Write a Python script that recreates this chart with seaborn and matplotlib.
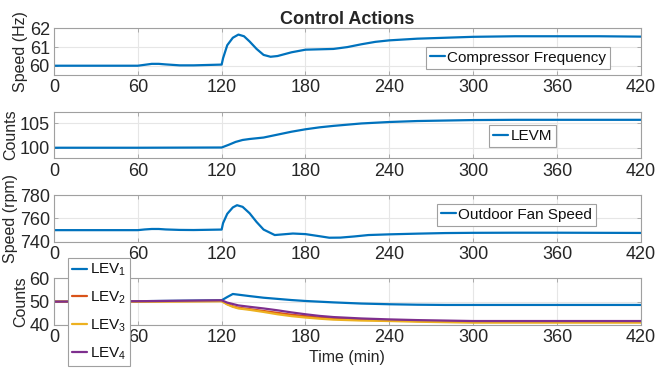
import numpy as np
import pandas as pd
import matplotlib
matplotlib.use("Agg")
import matplotlib.pyplot as plt
import seaborn as sns

# time points (min)
t_comp = [0, 60, 65, 70, 75, 80, 90, 100, 110, 120, 121, 124, 128, 132, 136, 140, 145, 150, 155,
          160, 170, 180, 190, 200, 210, 220, 230, 240, 260, 280, 300, 330, 360, 390, 420]
comp_freq = [60.0, 60.0, 60.05, 60.1, 60.1, 60.07, 60.02, 60.02, 60.04, 60.06, 60.4, 61.1, 61.5, 61.67,
             61.58, 61.3, 60.9, 60.58, 60.48, 60.52, 60.72, 60.86, 60.88, 60.9, 61.0, 61.15, 61.28,
             61.36, 61.45, 61.5, 61.55, 61.58, 61.58, 61.58, 61.56]

t_levm = [0, 60, 120, 125, 130, 135, 140, 150, 160, 170, 180, 190, 200, 220, 240, 260, 280, 300,
          330, 360, 390, 420]
levm = [100.0, 100.0, 100.05, 100.6, 101.2, 101.6, 101.8, 102.1, 102.7, 103.3, 103.8, 104.2, 104.5,
        105.0, 105.3, 105.5, 105.6, 105.7, 105.75, 105.75, 105.75, 105.75]

t_fan = [0, 60, 65, 70, 75, 80, 90, 100, 110, 120, 121, 124, 128, 131, 135, 140, 145, 150, 158,
         165, 171, 180, 190, 197, 205, 215, 225, 240, 260, 280, 300, 330, 360, 390, 420]
fan_speed = [750.0, 750.0, 750.6, 751.0, 751.0, 750.6, 750.2, 750.1, 750.3, 750.5, 756.0, 764.0,
             769.5, 771.4, 770.0, 764.5, 757.0, 750.5, 745.8, 746.5, 747.1, 746.6, 744.8, 743.5,
             743.6, 744.6, 745.8, 746.4, 747.0, 747.5, 747.7, 747.8, 747.8, 747.7, 747.6]

t_lev = [0, 60, 90, 120, 124, 128, 132, 140, 150, 160, 170, 180, 190, 200, 220, 240, 260, 280,
         300, 330, 360, 390, 420]
lev1 = [50.0, 50.2, 50.4, 50.6, 52.0, 53.3, 53.0, 52.4, 51.7, 51.2, 50.7, 50.3, 50.0, 49.7, 49.2,
        48.9, 48.7, 48.6, 48.6, 48.6, 48.6, 48.6, 48.6]
lev2 = [50.0, 50.1, 50.2, 50.3, 49.0, 48.0, 47.4, 46.8, 46.0, 45.2, 44.4, 43.8, 43.2, 42.8, 42.3,
        42.0, 41.7, 41.5, 41.4, 41.4, 41.4, 41.4, 41.4]
lev3 = [50.0, 50.0, 50.1, 50.2, 48.8, 47.8, 47.1, 46.5, 45.6, 44.6, 43.8, 43.2, 42.7, 42.3, 41.9,
        41.7, 41.4, 41.2, 41.0, 41.0, 41.0, 41.0, 41.0]
lev4 = [50.0, 50.2, 50.4, 50.6, 49.6, 49.0, 48.4, 47.8, 47.1, 46.3, 45.4, 44.6, 43.9, 43.4, 42.8,
        42.4, 42.1, 41.9, 41.7, 41.7, 41.7, 41.7, 41.7]

x_ticks = [0, 60, 120, 180, 240, 300, 360, 420]

blue, red, yellow, purple = "#0072BD", "#D95319", "#EDB120", "#7E2F8E"

sns.set_theme(style="white")
plt.rcParams["font.family"] = ["Liberation Sans", "DejaVu Sans"]
plt.rcParams["mathtext.default"] = "regular"

fig = plt.figure(figsize=(6.55, 3.79), dpi=100)
left, width, height = 0.0824, 0.896, 0.123
bottoms = [0.802, 0.582, 0.362, 0.1425]
axes = [fig.add_axes([left, b, width, height]) for b in bottoms]


def style_axis(ax, ylim, yticks, ylabel):
    ax.set_xlim(0, 420)
    ax.set_ylim(*ylim)
    ax.set_xticks(x_ticks)
    ax.set_yticks(yticks)
    ax.grid(True, color="#e6e6e6", linewidth=0.8)
    ax.set_axisbelow(True)
    for s in ax.spines.values():
        s.set_color("#a0a0a0")
        s.set_linewidth(0.8)
    ax.tick_params(direction="in", length=3, width=0.6, color="#a0a0a0",
                   labelsize=13, labelcolor="#262626", top=True, right=True,
                   bottom=True, left=True, pad=3)
    ax.set_ylabel(ylabel, fontsize=11.5, color="#262626", labelpad=1)
    ax.set_xlabel("")


def add_legend(ax, anchor, **kw):
    leg = ax.legend(loc="upper left", bbox_to_anchor=anchor, bbox_transform=fig.transFigure,
                    borderaxespad=0, fontsize=11, handlelength=1.0, handletextpad=0.15,
                    borderpad=0.25, fancybox=False, framealpha=1, **kw)
    leg.get_frame().set_edgecolor("#a0a0a0")
    leg.get_frame().set_linewidth(0.8)
    for txt in leg.get_texts():
        txt.set_color("#111111")
    return leg


lw = 1.6
ax = axes[0]
sns.lineplot(x=t_comp, y=comp_freq, ax=ax, color=blue, linewidth=lw, label="Compressor Frequency")
style_axis(ax, (59.5, 62), [60, 61, 62], "Speed (Hz)")
add_legend(ax, (0.650, 0.876))
ax.set_title("Control Actions", fontsize=13, fontweight="bold", pad=3)

ax = axes[1]
sns.lineplot(x=t_levm, y=levm, ax=ax, color=blue, linewidth=lw, label="LEVM")
style_axis(ax, (97.8, 107.4), [100, 105], "Counts")
add_legend(ax, (0.747, 0.670))

ax = axes[2]
sns.lineplot(x=t_fan, y=fan_speed, ax=ax, color=blue, linewidth=lw, label="Outdoor Fan Speed")
style_axis(ax, (740, 780), [740, 760, 780], "Speed (rpm)")
add_legend(ax, (0.667, 0.462))

ax = axes[3]
lev_df = pd.DataFrame({
    "t": t_lev * 4,
    "value": lev1 + lev2 + lev3 + lev4,
    "valve": ["LEV$_1$"] * len(t_lev) + ["LEV$_2$"] * len(t_lev)
             + ["LEV$_3$"] * len(t_lev) + ["LEV$_4$"] * len(t_lev),
})
sns.lineplot(data=lev_df, x="t", y="value", hue="valve", ax=ax,
             palette=[blue, red, yellow, purple], linewidth=lw)
style_axis(ax, (40, 60), [40, 50, 60], "Counts")
add_legend(ax, (0.104, 0.319), labelspacing=0.75)
ax.set_xlabel("Time (min)", fontsize=11.5, color="#262626", labelpad=3)

fig.savefig("out.png", dpi=100)
